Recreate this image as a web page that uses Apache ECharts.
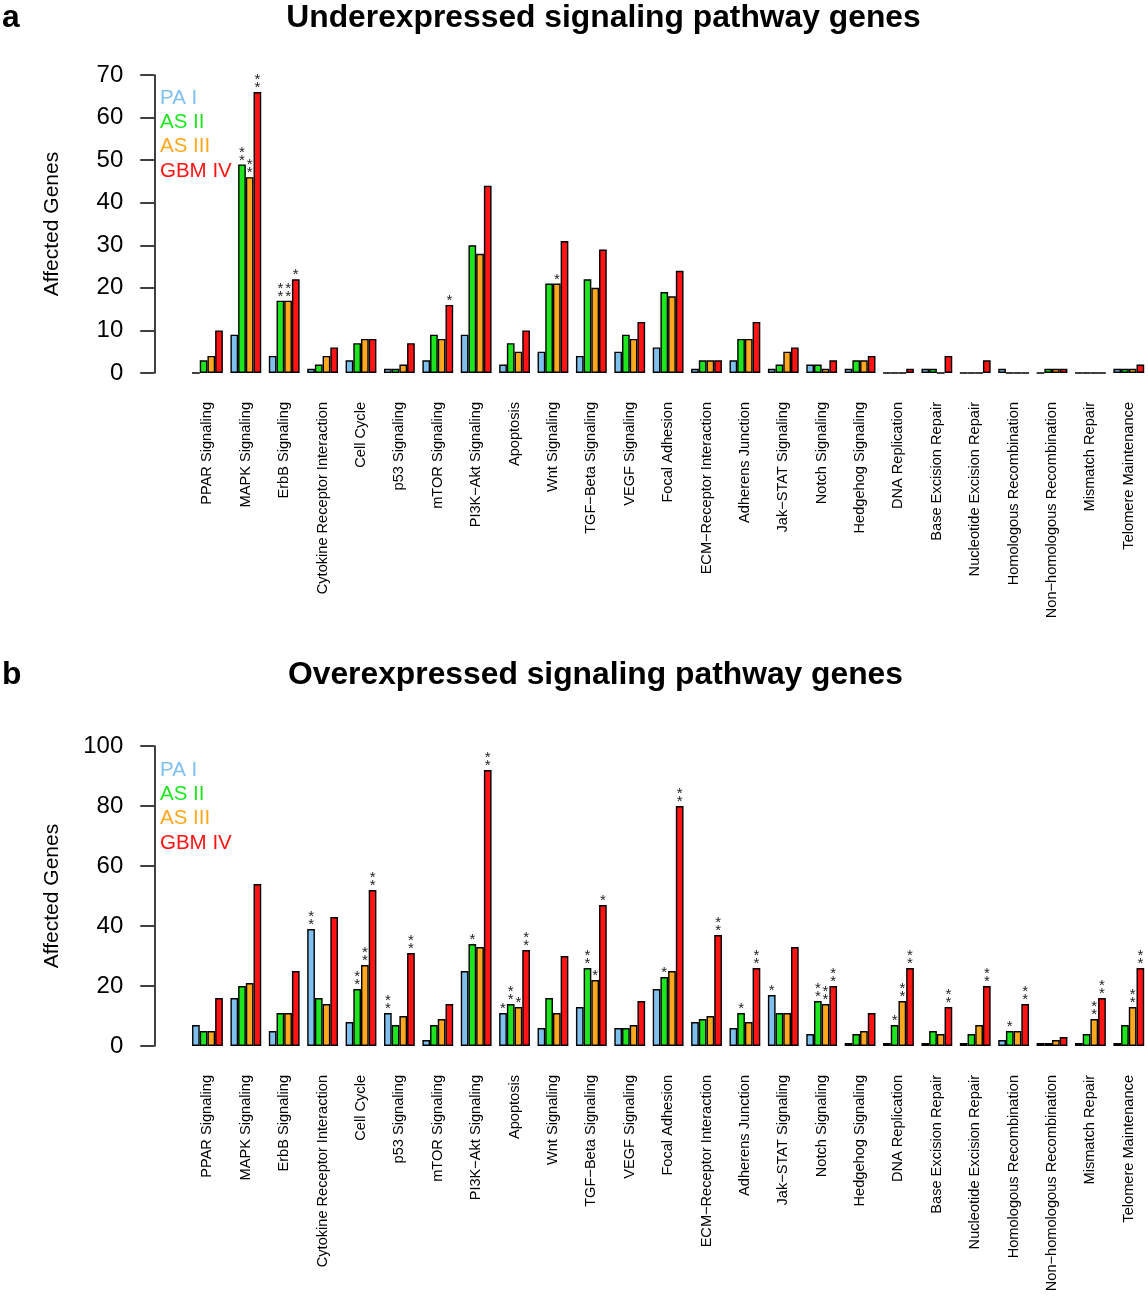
<!DOCTYPE html>
<html>
<head>
<meta charset="utf-8">
<script src="https://cdn.jsdelivr.net/npm/echarts@6/dist/echarts.min.js"></script>
<style>
html,body{margin:0;padding:0;background:#fff;}
#chart{width:1148px;height:1297px;}
</style>
</head>
<body>
<div id="chart"></div>
<script>
var categories = ['PPAR Signaling','MAPK Signaling','ErbB Signaling','Cytokine Receptor Interaction','Cell Cycle','p53 Signaling','mTOR Signaling','PI3K\u2212Akt Signaling','Apoptosis','Wnt Signaling','TGF\u2212Beta Signaling','VEGF Signaling','Focal Adhesion','ECM\u2212Receptor Interaction','Adherens Junction','Jak\u2212STAT Signaling','Notch Signaling','Hedgehog Signaling','DNA Replication','Base Excision Repair','Nucleotide Excision Repair','Homologous Recombination','Non\u2212homologous Recombination','Mismatch Repair','Telomere Maintenance'];
var seriesNames = ['PA I','AS II','AS III','GBM IV'];

// a: Underexpressed
var underPA   = [0, 9, 4, 1, 3, 1, 3, 9, 2, 5, 4, 5, 6, 1, 3, 1, 2, 1, 0, 1, 0, 1, 0, 0, 1];
var underAS2  = [3,49,17, 2, 7, 1, 9,30, 7,21,22, 9,19, 3, 8, 2, 2, 3, 0, 1, 0, 0, 1, 0, 1];
var underAS3  = [4,46,17, 4, 8, 2, 8,28, 5,21,20, 8,18, 3, 8, 5, 1, 3, 0, 0, 0, 0, 1, 0, 1];
var underGBM  = [10,66,22,6, 8, 7,16,44,10,31,29,12,24, 3,12, 6, 3, 4, 1, 4, 3, 0, 1, 0, 2];
var underSigPA  = ['','','','','','','','','','','','','','','','','','','','','','','','',''];
var underSigAS2 = ['','**','**','','','','','','','','','','','','','','','','','','','','','',''];
var underSigAS3 = ['','**','**','','','','','','','*','','','','','','','','','','','','','','',''];
var underSigGBM = ['','**','*','','','','*','','','','','','','','','','','','','','','','','',''];

// b: Overexpressed
var overPA   = [ 7,16, 5,39, 8,11, 2,25,11, 6,13, 6,19, 8, 6,17, 4, 1, 1, 1, 1, 2, 1, 1, 1];
var overAS2  = [ 5,20,11,16,19, 7, 7,34,14,16,26, 6,23, 9,11,11,15, 4, 7, 5, 4, 5, 1, 4, 7];
var overAS3  = [ 5,21,11,14,27,10, 9,33,13,11,22, 7,25,10, 8,11,14, 5,15, 4, 7, 5, 2, 9,13];
var overGBM  = [16,54,25,43,52,31,14,92,32,30,47,15,80,37,26,33,20,11,26,13,20,14, 3,16,26];
var overSigPA  = ['','','','**','','**','','','*','','','','','','','*','','','','','','','','',''];
var overSigAS2 = ['','','','','**','','','*','**','','**','','*','','*','','**','','*','','','*','','',''];
var overSigAS3 = ['','','','','**','','','','*','','*','','','','','','**','','**','','','','','**','**'];
var overSigGBM = ['','','','','**','**','','**','**','','*','','**','**','**','','**','','**','**','**','**','','**','**'];

var colors = ['#7EC0EE','#1EE61E','#FFA81E','#FF1414'];
var FONT = 'Liberation Sans, Arial, Helvetica, sans-serif';

function stars(s){ return s ? s.split('').join('\n') : ''; }

function makeSeries(vals, sig, idx, axisIdx){
  return {
    type:'bar', name: seriesNames[idx], xAxisIndex: axisIdx, yAxisIndex: axisIdx,
    data: vals, barWidth: 7.7, barGap: '0%',
    itemStyle: {color: colors[idx], borderColor:'#000', borderWidth:1.4},
    label: {show:true, position:'top', distance:0, color:'#222', fontSize:15, lineHeight:8,
            fontFamily: FONT,
            formatter: function(p){ return stars(sig[p.dataIndex]); }},
    silent: true, animation: false
  };
}

function xAx(gi){
  return {type:'category', gridIndex: gi, data: categories,
    axisLine:{show:false}, axisTick:{show:false},
    axisLabel:{interval:0, rotate:90, margin:29, fontSize:14.6, color:'#000', fontFamily:FONT}};
}
function yAx(gi, max, interval){
  return {type:'value', gridIndex: gi, min:0, max:max, interval:interval, offset:34,
    name:'Affected Genes', nameLocation:'middle', nameGap:92, nameRotate:90,
    nameTextStyle:{fontSize:21, color:'#000', fontFamily:FONT},
    axisLine:{show:true, lineStyle:{color:'#000', width:1.5}},
    axisTick:{show:true, length:14, lineStyle:{color:'#000', width:1.5}},
    axisLabel:{fontSize:24, color:'#000', margin:31, fontFamily:FONT},
    splitLine:{show:false}};
}
function legend(top){
  return {orient:'vertical', left:155, top: top, padding:0, itemGap:0,
    icon:'none', itemWidth:0, itemHeight:10, selectedMode:false,
    textStyle:{fontSize:20.5, lineHeight:24.3, fontFamily:FONT},
    data: seriesNames.map(function(n,i){ return {name:n, textStyle:{color:colors[i], fontSize:20.5, lineHeight:24.3}}; })};
}

var option = {
  backgroundColor:'#fff',
  animation:false,
  textStyle:{fontFamily:FONT},
  grid:[
    {left:188.25, top:75, width:962.5, height:298},
    {left:188.25, top:746, width:962.5, height:300}
  ],
  xAxis:[xAx(0), xAx(1)],
  yAxis:[yAx(0,70,10), yAx(1,100,20)],
  legend:[legend(86), legend(758)],
  series:[
    makeSeries(underPA, underSigPA, 0, 0),
    makeSeries(underAS2, underSigAS2, 1, 0),
    makeSeries(underAS3, underSigAS3, 2, 0),
    makeSeries(underGBM, underSigGBM, 3, 0),
    makeSeries(overPA, overSigPA, 0, 1),
    makeSeries(overAS2, overSigAS2, 1, 1),
    makeSeries(overAS3, overSigAS3, 2, 1),
    makeSeries(overGBM, overSigGBM, 3, 1)
  ],
  graphic:[
    {type:'text', x:2, y:18.5, style:{text:'a', font:'bold 31.8px '+FONT, fill:'#000', align:'left', verticalAlign:'middle'}},
    {type:'text', x:603.5, y:18.5, style:{text:'Underexpressed signaling pathway genes', font:'bold 31.8px '+FONT, fill:'#000', align:'center', verticalAlign:'middle'}},
    {type:'text', x:2, y:675.5, style:{text:'b', font:'bold 31.8px '+FONT, fill:'#000', align:'left', verticalAlign:'middle'}},
    {type:'text', x:595.5, y:675.5, style:{text:'Overexpressed signaling pathway genes', font:'bold 31.8px '+FONT, fill:'#000', align:'center', verticalAlign:'middle'}}
  ]
};

var chart = echarts.init(document.getElementById('chart'), null, {renderer:'canvas'});
chart.setOption(option);
</script>
</body>
</html>
